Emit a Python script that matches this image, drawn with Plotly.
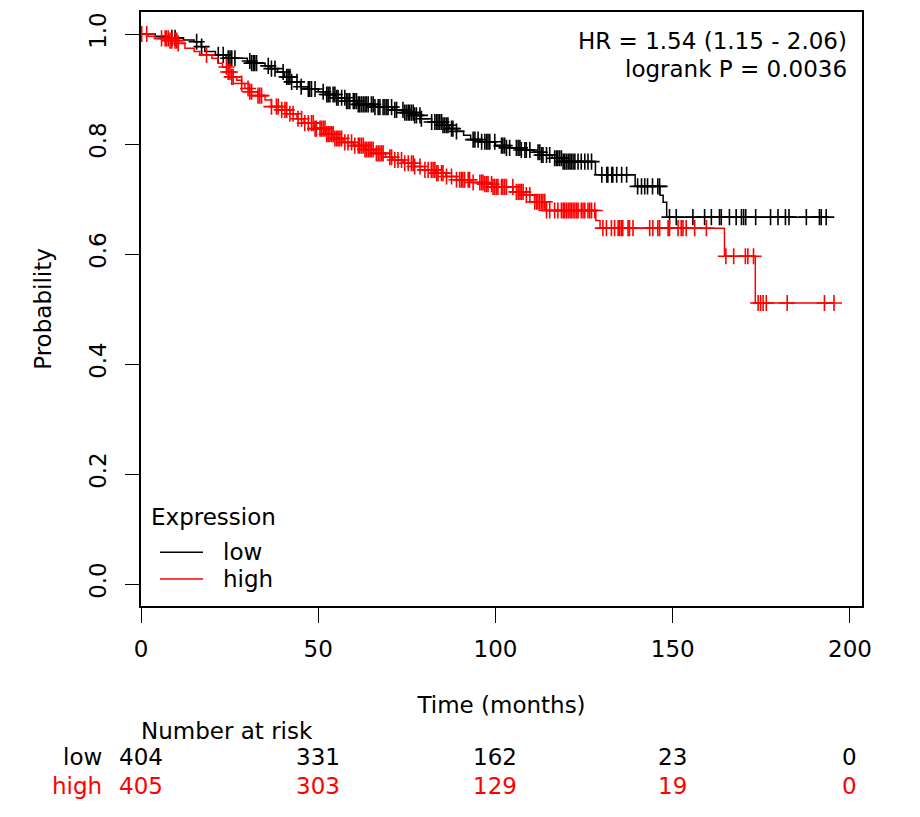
import numpy as np
import plotly.graph_objects as go

# ---------------- data ----------------
low_step_t = [0, 4, 8, 12, 15, 17, 18, 21, 24, 30, 31, 35, 36.5, 38.5, 40.5, 42.5, 45, 47, 50, 52, 55, 58, 61,
              66, 71, 74, 77, 79, 82, 85, 87, 89, 91, 93, 95.5, 100, 103, 107, 111, 113, 116, 119, 128.2,
              139.4, 146.4, 147.3, 148.3]
low_step_s = [1.0, 0.996, 0.993, 0.989, 0.986, 0.977, 0.968, 0.962, 0.956, 0.951, 0.947, 0.942, 0.937, 0.931,
              0.922, 0.913, 0.904, 0.9, 0.895, 0.89, 0.884, 0.878, 0.872, 0.867, 0.862, 0.857, 0.852, 0.846,
              0.84, 0.834, 0.828, 0.823, 0.816, 0.808, 0.804, 0.797, 0.793, 0.789, 0.785, 0.78, 0.774, 0.768,
              0.744, 0.723, 0.707, 0.694, 0.667]
low_censor = [8.7, 9.6, 15.7, 17.1, 21.8, 23.2, 24.6, 25.1, 25.6, 26.5, 30.7, 31.2, 31.7, 32.1, 32.6, 35.9, 36.8,
              37.8, 40.1, 41.1, 41.5, 42.0, 42.5, 44.0, 45.2,
              47.2, 47.6, 48.1, 49.1, 51.4, 52.4, 52.8, 53.3, 54.2, 54.7, 55.2, 55.6, 56.6, 57.5, 58.0, 58.4,
              58.9, 59.9, 60.3, 60.8, 61.3, 61.7, 62.2, 62.7, 63.2, 63.6, 64.1, 65.0, 65.5, 66.0, 66.9, 67.4,
              68.3, 68.8, 69.3, 69.7, 70.7, 71.6, 72.1, 73.9, 74.4, 74.9, 75.4, 75.8, 76.3, 76.8, 77.2, 77.7,
              78.7, 79.1, 82.0, 82.9, 83.4, 83.8, 84.3, 84.8, 85.2, 85.7, 86.2, 86.6, 87.6, 88.0,
              89.0, 93.7, 94.2, 95.1, 96.1, 97.0, 97.5, 97.9, 98.4, 99.8, 101.7, 102.1, 102.6, 103.1, 104.0,
              105.9, 106.4, 106.9, 107.3, 108.3, 108.7, 109.7, 112.0, 112.5, 113.0, 113.4, 114.4, 115.3,
              116.7, 117.2, 117.6, 118.1, 118.6, 119.1, 119.5, 120.0, 120.5, 121.0, 121.4, 121.9, 122.4,
              123.3, 124.2, 125.2, 126.1, 127.1,
              130.0, 131.4, 131.7, 132.8, 133.1, 134.2, 135.6, 137.0, 140.1, 141.2, 142.1, 142.9, 144.3,
              145.8, 146.3, 149.1, 151.0, 155.7, 159.0, 160.9, 163.2, 163.7, 166.0, 167.9, 169.4, 170.0,
              170.6, 173.4, 177.6, 179.7, 181.8, 182.8, 187.7, 191.4, 191.9, 193.3]

high_step_t = [0, 2, 4, 8, 10.5, 12.4, 15, 16.6, 20, 21.7, 23, 24.2, 25.6, 27, 28.4, 29.3, 30.7, 33, 35, 36.8,
               39.7, 42, 44, 46, 49, 52, 54.5, 57, 60, 63, 66, 69, 71, 74, 77, 80, 83, 86, 89, 93, 97, 99,
               105, 108, 111, 114, 128.3, 129.5, 164.6, 173.3]
high_step_s = [1.0, 0.996, 0.992, 0.988, 0.983, 0.974, 0.968, 0.962, 0.956, 0.947, 0.94, 0.931, 0.922, 0.916,
               0.91, 0.901, 0.895, 0.888, 0.88, 0.868, 0.862, 0.855, 0.846, 0.838, 0.828, 0.818, 0.81, 0.803,
               0.797, 0.79, 0.783, 0.776, 0.771, 0.765, 0.759, 0.753, 0.747, 0.741, 0.735, 0.73, 0.727, 0.722,
               0.713, 0.707, 0.695, 0.679, 0.661, 0.647, 0.596, 0.511]
high_censor = [0.2, 1.6, 5.8, 6.8, 7.2, 7.7, 8.2, 8.7, 9.6, 10.1, 10.5, 18.5, 24.1, 24.6, 25.1, 25.6, 26.0,
               28.4, 30.2, 30.7, 31.2, 33.0, 33.5, 34.0, 36.8, 38.2, 38.7, 39.7, 40.6, 41.1, 42.0, 42.9, 44.3,
               45.3, 46.2, 47.2, 48.1, 48.6, 49.1, 49.5, 50.5, 50.9, 51.4, 51.9, 52.4, 52.8, 53.3, 53.8, 54.2,
               54.7, 55.2, 55.6, 56.1, 56.6, 57.5, 58.4, 59.4, 60.3, 61.3, 61.7, 62.2, 62.7, 63.2, 63.6, 64.1,
               64.6, 65.0, 65.5, 66.4, 66.9, 67.4, 67.9, 68.3, 70.2, 70.7, 71.6, 72.5, 73.5, 74.4, 75.4, 76.3,
               76.8, 77.2, 78.7, 80.1, 81.0, 81.9, 82.4, 82.9, 83.4, 83.8, 84.8, 85.2, 86.2, 87.6,
               89.0, 89.9, 90.4, 90.8, 91.3, 92.3, 92.7, 93.7, 95.6, 96.1, 96.5, 97.0, 97.5, 97.9, 98.9, 99.3,
               99.8, 100.3, 100.7, 101.7, 102.1, 102.6, 103.1, 104.9, 105.9, 106.4, 106.9, 107.3, 107.8,
               108.7, 109.7, 111.1, 111.6, 112.0, 112.5, 113.0, 113.4, 113.9, 114.4, 115.3, 116.7, 117.6,
               118.6, 119.1, 119.5, 120.0, 120.5, 121.0, 121.4, 121.9, 122.4, 122.9, 123.3, 124.2, 124.7,
               125.2, 126.1, 126.6, 127.1, 128.0,
               130.3, 131.3, 132.7, 133.6, 134.6, 135.0, 135.5, 135.9, 137.4, 137.8, 138.8, 143.5, 144.4,
               145.8, 146.3, 148.7, 149.1, 151.5, 152.4, 152.9, 153.8, 156.2, 159.5, 165.0, 167.2, 170.5,
               171.2, 172.8, 174.1, 174.8, 175.5, 176.4, 182.3, 192.8, 195.5]

risk_times = [0, 50, 100, 150, 200]
risk_low = [404, 331, 162, 23, 0]
risk_high = [405, 303, 129, 19, 0]

x_ticks = [0, 50, 100, 150, 200]
y_ticks = [0.0, 0.2, 0.4, 0.6, 0.8, 1.0]
y_ticklabels = ["0.0", "0.2", "0.4", "0.6", "0.8", "1.0"]

hr_text = "HR = 1.54 (1.15 - 2.06)"
p_text = "logrank P = 0.0036"

FONT = "DejaVu Sans"
FS = 23
BLACK = "#000000"
RED = "#FF0000"


def curve(step_t, step_s, censor):
    t = np.array(step_t, dtype=float)
    s = np.array(step_s, dtype=float)
    c = np.array(censor, dtype=float)
    end = max(c.max(), t.max())
    xs = np.append(t, end)
    ys = np.append(s, s[-1])
    idx = np.searchsorted(t, c, side="right") - 1
    return xs, ys, c, s[idx]


fig = go.Figure()
for name, st, ss, cen, col in [("low", low_step_t, low_step_s, low_censor, BLACK),
                               ("high", high_step_t, high_step_s, high_censor, RED)]:
    xs, ys, cx, cy = curve(st, ss, cen)
    fig.add_trace(go.Scatter(x=xs, y=ys, mode="lines", line=dict(color=col, width=1.5, shape="hv"),
                             name=name, showlegend=False, hoverinfo="skip"))
    fig.add_trace(go.Scatter(x=cx, y=cy, mode="markers",
                             marker=dict(symbol="cross-thin", size=11.5, line=dict(color=col, width=1.6)),
                             name=name + " censored", showlegend=False, hoverinfo="skip"))

# page body has an 8px margin; figure placed at (8, 8)
OFF = 8
W, H = 904, 801
PL, PR, PT, PB = 141, 862, 10, 606   # plot box in page pixels
L = PL - OFF
T = PT - OFF
R = OFF + W - PR
B = OFF + H - PB
pw, ph = PR - PL, PB - PT


def px(xpix):
    return (xpix - PL) / pw


def py(ypix):
    return (PB - ypix) / ph


def txt(x, y, text, anchor, color=BLACK, xref="paper"):
    return dict(x=x, y=y, xref=xref, yref="paper", text=text, xanchor=anchor, yanchor="middle",
                showarrow=False, font=dict(size=FS, color=color))


ann = [
    txt(px(849), py(39), hr_text, "right"),
    txt(px(849), py(67), p_text, "right"),
    txt(px(149), py(517), "Expression", "left"),
    txt(px(221), py(552), "low", "left"),
    txt(px(221), py(579), "high", "left"),
    txt(px(139), py(731), "Number at risk", "left"),
    txt(px(104), py(758), "low", "right"),
    txt(px(104), py(787), "high", "right", RED),
]
for t, nl, nh in zip(risk_times, risk_low, risk_high):
    ann.append(txt(t, py(758), str(nl), "center", BLACK, "x"))
    ann.append(txt(t, py(787), str(nh), "center", RED, "x"))

shapes = [
    dict(type="line", xref="paper", yref="paper", x0=px(160), x1=px(203), y0=py(552), y1=py(552),
         line=dict(color=BLACK, width=1.5)),
    dict(type="line", xref="paper", yref="paper", x0=px(160), x1=px(203), y0=py(579), y1=py(579),
         line=dict(color=RED, width=1.5)),
]

fig.update_layout(
    width=W, height=H,
    margin=dict(l=L, r=R, t=T, b=B, pad=0),
    paper_bgcolor="white", plot_bgcolor="white",
    font=dict(family=FONT, size=FS, color=BLACK),
    annotations=ann, shapes=shapes,
    showlegend=False,
)
fig.update_xaxes(range=[0, 203.4], tickvals=x_ticks, ticks="outside", ticklen=15, tickwidth=1.4,
                 tickcolor=BLACK, showline=True, linecolor=BLACK, linewidth=1.6, mirror=True,
                 showgrid=False, zeroline=False, tickfont=dict(size=FS), ticklabelstandoff=7,
                 title=dict(text="Time (months)", standoff=35, font=dict(size=FS)))
fig.update_yaxes(range=[-0.04, 1.04], tickvals=y_ticks, ticktext=y_ticklabels, tickangle=-90,
                 ticks="outside", ticklen=14, tickwidth=1.4, tickcolor=BLACK, showline=True,
                 linecolor=BLACK, linewidth=1.6, mirror=True, showgrid=False, zeroline=False,
                 tickfont=dict(size=FS), ticklabelstandoff=10,
                 title=dict(text="Probability", standoff=27, font=dict(size=FS)))

fig.write_html("out.html")
